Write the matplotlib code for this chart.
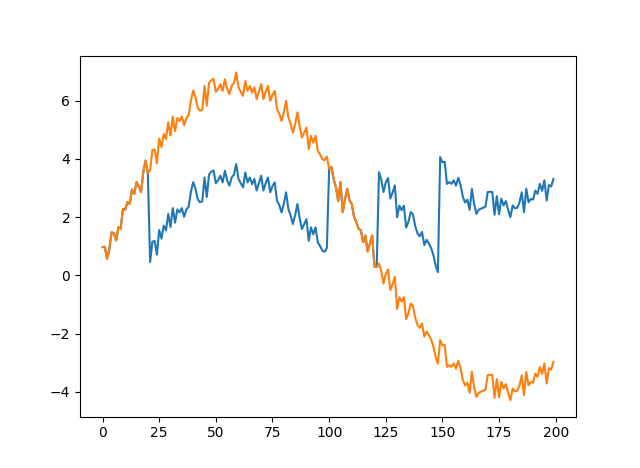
import matplotlib
matplotlib.use("Agg")
import matplotlib.pyplot as plt
import numpy as np

x = np.arange(200)

wrapped = [
    0.97, 0.98, 0.57, 0.90, 1.48, 1.45, 1.20, 1.65, 1.60, 2.28,
    2.25, 2.52, 2.45, 2.95, 2.80, 3.20, 3.05, 2.86, 3.55, 3.94,
    3.50, 0.46, 1.16, 1.18, 0.71, 1.56, 1.26, 1.71, 1.54, 2.11,
    1.66, 2.31, 1.81, 2.26, 2.16, 2.31, 2.01, 2.26, 2.36, 2.86,
    3.20, 2.98, 2.61, 2.51, 2.54, 3.36, 2.69, 3.46, 3.56, 3.60,
    3.16, 3.26, 3.42, 3.19, 3.59, 3.26, 3.08, 3.36, 3.46, 3.82,
    3.31, 3.16, 3.02, 3.53, 3.19, 3.36, 3.13, 3.31, 2.91, 3.16,
    3.42, 2.91, 3.16, 3.36, 2.85, 3.06, 3.19, 2.56, 2.41, 2.16,
    2.46, 2.85, 2.28, 2.06, 1.76, 2.06, 2.45, 1.96, 1.59, 1.76,
    1.93, 1.19, 1.65, 1.41, 1.65, 1.13, 1.01, 0.85, 0.81, 0.94,
    3.65, 3.72, 3.30, 3.03, 2.55, 3.20, 2.17, 2.60, 2.97, 2.57,
    2.45, 2.00, 1.83, 1.60, 1.55, 1.14, 1.37, 0.82, 1.10, 1.37,
    0.30, 0.29, 3.54, 3.29, 2.86, 3.19, 3.34, 2.64, 2.84, 3.09,
    1.99, 2.39, 2.24, 2.39, 1.64, 1.84, 2.17, 2.09, 1.69, 1.44,
    1.34, 1.49, 1.04, 1.22, 1.09, 0.94, 0.70, 0.34, 0.11, 4.06,
    3.88, 3.90, 3.14, 3.20, 3.14, 3.26, 3.08, 3.35, 3.10, 2.70,
    2.50, 2.60, 2.25, 2.97, 2.45, 2.11, 2.25, 2.29, 2.32, 2.36,
    2.86, 2.87, 2.86, 2.08, 2.72, 2.10, 2.63, 2.40, 2.55, 2.25,
    2.00, 2.40, 2.30, 2.32, 2.50, 2.85, 2.17, 2.97, 2.51, 2.62,
    2.60, 2.91, 2.80, 3.14, 2.90, 3.26, 2.57, 3.10, 3.05, 3.31,
]

unwrapped = [
    0.97, 0.98, 0.57, 0.90, 1.48, 1.45, 1.20, 1.65, 1.60, 2.28,
    2.25, 2.52, 2.45, 2.95, 2.80, 3.20, 3.05, 2.86, 3.55, 3.94,
    3.50, 3.60, 4.30, 4.32, 3.85, 4.70, 4.40, 4.85, 4.68, 5.25,
    4.80, 5.45, 4.95, 5.40, 5.30, 5.45, 5.15, 5.40, 5.50, 6.00,
    6.34, 6.12, 5.75, 5.65, 5.68, 6.50, 5.83, 6.60, 6.70, 6.74,
    6.30, 6.40, 6.56, 6.33, 6.73, 6.40, 6.22, 6.50, 6.60, 6.96,
    6.45, 6.30, 6.16, 6.67, 6.33, 6.50, 6.27, 6.45, 6.05, 6.30,
    6.56, 6.05, 6.30, 6.50, 5.99, 6.20, 6.33, 5.70, 5.55, 5.30,
    5.60, 5.99, 5.42, 5.20, 4.90, 5.20, 5.59, 5.10, 4.73, 4.90,
    5.07, 4.33, 4.79, 4.55, 4.79, 4.27, 4.15, 3.99, 3.95, 4.08,
    3.65, 3.72, 3.30, 3.03, 2.55, 3.20, 2.17, 2.60, 2.97, 2.57,
    2.45, 2.00, 1.83, 1.60, 1.55, 1.14, 1.37, 0.82, 1.10, 1.37,
    0.30, 0.29, 0.40, 0.15, -0.28, 0.05, 0.20, -0.50, -0.30, -0.05,
    -1.15, -0.75, -0.90, -0.75, -1.50, -1.30, -0.97, -1.05, -1.45, -1.70,
    -1.80, -1.65, -2.10, -1.92, -2.05, -2.20, -2.44, -2.80, -3.03, -2.22,
    -2.40, -2.38, -3.14, -3.08, -3.14, -3.02, -3.20, -2.93, -3.18, -3.58,
    -3.78, -3.68, -4.03, -3.31, -3.83, -4.17, -4.03, -3.99, -3.96, -3.92,
    -3.42, -3.41, -3.42, -4.20, -3.56, -4.18, -3.65, -3.88, -3.73, -4.03,
    -4.28, -3.88, -3.98, -3.96, -3.78, -3.43, -4.11, -3.31, -3.77, -3.66,
    -3.68, -3.37, -3.48, -3.14, -3.38, -3.02, -3.71, -3.18, -3.23, -2.97,
]

fig, ax = plt.subplots(figsize=(6.4, 4.68), dpi=100)
ax.plot(x, wrapped)
ax.plot(x, unwrapped)
fig.savefig("out.png", dpi=100)
